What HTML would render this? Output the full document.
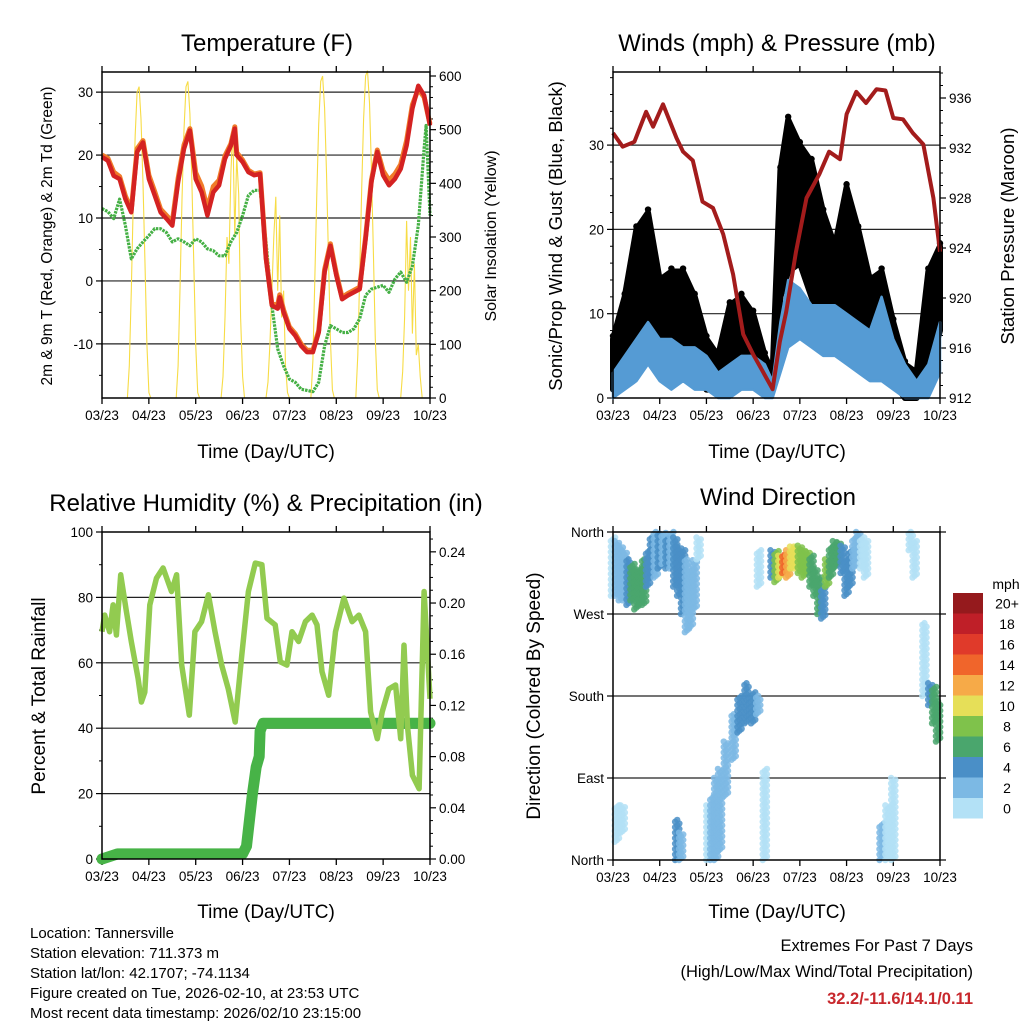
<!DOCTYPE html>
<html><head><meta charset="utf-8"><style>
html,body{margin:0;padding:0;background:#fff;}
svg{display:block;font-family:"Liberation Sans",sans-serif;}
</style></head><body>
<svg id="fig" width="1024" height="1024" viewBox="0 0 1024 1024" xmlns="http://www.w3.org/2000/svg">
<rect width="1024" height="1024" fill="#fff"/>
<g font-size="24" text-anchor="middle" fill="#000">
<text x="267" y="51">Temperature (F)</text>
<text x="777" y="51">Winds (mph) &amp; Pressure (mb)</text>
<text x="266" y="511">Relative Humidity (%) &amp; Precipitation (in)</text>
<text x="778" y="505">Wind Direction</text>
</g>
<g font-size="19" text-anchor="middle">
<text x="266" y="458">Time (Day/UTC)</text>
<text x="777" y="458">Time (Day/UTC)</text>
<text x="266" y="918">Time (Day/UTC)</text>
<text x="777" y="918">Time (Day/UTC)</text>
<text transform="translate(52,236) rotate(-90)" font-size="15.5">2m &amp; 9m T (Red, Orange) &amp; 2m Td (Green)</text>
<text transform="translate(496,236) rotate(-90)" font-size="16">Solar Insolation (Yellow)</text>
<text transform="translate(562,236) rotate(-90)" font-size="18.5">Sonic/Prop Wind &amp; Gust (Blue, Black)</text>
<text transform="translate(1014,236) rotate(-90)" font-size="18.5">Station Pressure (Maroon)</text>
<text transform="translate(45,696) rotate(-90)" font-size="19">Percent &amp; Total Rainfall</text>
<text transform="translate(540,696) rotate(-90)" font-size="19">Direction (Colored By Speed)</text>
</g>
<g font-size="15" fill="#000">
<text x="30" y="938">Location: Tannersville</text>
<text x="30" y="958">Station elevation: 711.373 m</text>
<text x="30" y="978">Station lat/lon: 42.1707; -74.1134</text>
<text x="30" y="998">Figure created on Tue, 2026-02-10, at 23:53 UTC</text>
<text x="30" y="1018">Most recent data timestamp: 2026/02/10 23:15:00</text>
</g>
<g text-anchor="end" font-size="16.5">
<text x="973" y="951">Extremes For Past 7 Days</text>
<text x="973" y="977">(High/Low/Max Wind/Total Precipitation)</text>
<text x="973" y="1004" fill="#c8282d" font-weight="bold">32.2/-11.6/14.1/0.11</text>
</g>
</svg>
<script>
// ---------- data ----------
const timeLabels=["03/23","04/23","05/23","06/23","07/23","08/23","09/23","10/23"];
const tHours=[0,3,6,9,12,15,18,21,24,27,30,33,36,39,42,45,48,51,54,57,60,63,66,68,69,72,75,78,81,84,87,90,91,93,96,99,102,105,108,111,114,117,120,123,126,129,132,135,138,141,144,147,150,153,156,159,162,165,168];
const tempRed=[19.7,19.1,16.7,16.2,13,10.9,20.5,22,16.2,13.6,10.9,9.9,8.8,15.7,21,23.9,16.2,14.1,10.4,14.1,15.2,19.4,21.5,24.2,20,18.9,17.3,16.8,17,3.5,-3.9,-4.4,-2.6,-5,-7.6,-8.7,-10.3,-11.3,-11.3,-8.2,1.4,5.6,0.9,-2.9,-2.3,-1.8,-1.3,6.7,15.7,20.5,16.8,15.2,16.2,17.8,21.5,27.4,31,29.5,24.7];
const tempOrange=[20,19.5,17.3,16.6,13.5,11.3,21,22.3,16.8,14.2,11.4,10.4,9.4,16.3,21.6,24.2,17.2,15.1,11.5,15,16,19.9,21.8,24.5,20.4,19.2,17.6,17,17.2,3.8,-3.7,-3.8,-2.2,-4.6,-7.3,-8.4,-10,-11,-11,-7.9,1.8,5.9,1.2,-2.6,-2,-1.5,-1,7,16,20.8,17.5,16,17,18.5,22.3,28,30.5,29.2,24.9];
const dewHours=[0,3,6,9,12,15,18,21,24,27,30,33,36,39,42,45,48,51,54,57,60,63,66,69,72,75,78,81,84,87,90,93,96,99,102,105,108,111,114,117,120,123,126,129,132,135,138,141,144,147,150,153,156,159,162,165,166,168];
const dewGreen=[11.5,11,9.9,13,8.8,3.5,5.1,6.2,7.2,8.3,8.3,7.7,6.2,6.7,6.2,5.6,6.7,6.2,5.1,4.8,4,4,6.2,7.7,10.4,13.6,14.4,14.4,6.2,-3.9,-10.8,-13.5,-15.6,-16.1,-17.2,-17.4,-17.6,-16.1,-10.3,-7.1,-7.6,-8.2,-8.2,-7.6,-6,-2.3,-1.3,-1,-0.7,-1.8,0.3,1.4,-0.2,2.4,8.8,21,24.7,10.4];
const solarHours=[];for(let i=0;i<=168;i++)solarHours.push(i);
const solar=[0,0,0,0,0,0,0,0,0,0,0,0,0,0,60,200,360,490,570,580,520,400,250,100,10,0,
0,0,0,0,0,0,0,0,0,0,0,0,0,60,210,370,500,580,590,530,410,250,100,10,0,
0,0,0,0,0,0,0,0,0,0,0,40,150,300,250,420,505,300,450,380,150,40,0,
0,0,0,0,0,0,0,0,0,0,0,30,100,200,300,375,200,340,150,200,60,10,0,
0,0,0,0,0,0,0,0,0,0,0,70,220,380,510,590,600,540,420,260,110,15,0,
0,0,0,0,0,0,0,0,0,0,0,80,230,390,520,600,610,550,430,270,110,15,0,
0,0,0,0,0,0,0,0,0,0,0,50,150,330,200,300,120,250,80,100,40,0];
const presHours=[0,5,11,17,20.6,25.7,32.6,36,41,46,51.4,56.6,61.7,66.9,72,77,82,85.7,89,94,99.4,106,111,116.6,120,125,130,135.4,140,144,149,154,159.4,164.6,168];
const pressure=[933.2,932.1,932.5,934.9,933.7,935.5,932.8,931.7,931,927.7,927.2,925.1,921.9,917.1,915.5,914.1,912.7,916.5,918.9,923.7,928,929.9,931.7,931.1,934.7,936.5,935.6,936.7,936.6,934.4,934.3,933.2,932.3,928,923.7];
const windHours=[0,6,12,18,24,30,36,42,48,54,60,66,72,78,82,86,90,96,102,108,114,120,126,132,138,144,150,156,162,168];
const sonicLo=[0,1,2,4,2,1,2,1,1,0,0,1,1,0,0,3,6,7,6,5,5,4,3,2,2,1,0,0,0,3];
const sonicHi=[3,5,7,9,7,7,6,6,5,3,4,5,5,4,2,9,14,13,11,11,11,10,9,8,12,7,4,2,4,9];
const gustLo=[1,3,8,6,5,4,5,4,1,1,3,4,3,1,1,12,15,16,12,8,7,7,6,5,5,2,0,0,3,8];
const gustHi=[7,12,20,22,14,15,15,12,7,5,11,12,10,5,3,27,33,30,28,22,18,25,20,14,15,9,4,3,15,18];
const rhHours=[0,1.4,3.9,5.7,7.4,9.6,12.5,15,18.5,20.2,21.9,24.5,27.9,31.3,35.6,38.2,40.8,44.7,47.6,51,54.5,57.9,61.3,64.7,68.2,71.6,75,78.5,81.9,84.5,88.7,91.3,94.7,97.3,100.7,104.2,107.6,110.1,112.7,116.1,119.6,123.9,128.1,131.6,135,137.6,141,143.5,146.9,150.4,153,154.7,156.4,159,162.4,165,168];
const rh=[69.5,74.6,69.5,77.7,68.5,86.9,75.7,66.5,55.2,48,51,77.7,85.9,89,81.8,86.9,59.3,44,69.5,72.6,80.8,69.5,59.3,52,41.9,62.4,81.8,90.5,90,73.6,71.6,60.3,59.3,69.5,66.5,72.6,74.6,71.6,57.3,50.1,69.5,79.8,72.6,74.6,69.5,45,36.8,45,52,53.2,36.8,65.4,40.9,25.6,21.5,81.8,49];
const precipHours=[0,8,72,74,77,79,80.5,81,82.5,168];
const precip=[0,0.004,0.004,0.01,0.05,0.072,0.08,0.1,0.106,0.106];
const dirHours=[0,2,4,6,8,10,12,14,16,18,20,22,24,26,28,30,32,34,36,38,40,42,44,2,5,33,35,49,51,53,55,58,62,65,68.6,72,74.6,78,75,82,84,86,88,90,92,94,96,98,100,102,104,106,108,110,112,114,116,118,120,122,124,126,128,130,138,141,144,153,155,160,163,165,167];
const dirLo=[290,290,285,285,280,285,275,280,280,300,310,310,320,325,320,320,300,290,270,250,255,275,330,20,30,0,0,0,0,0,10,70,110,140,150,150,160,0,300,310,305,310,315,310,320,320,315,310,315,300,290,270,265,300,310,320,325,315,290,300,320,330,320,310,0,0,0,340,310,180,170,150,130];
const dirHi=[355,350,345,340,330,325,320,320,330,340,355,360,358,360,355,360,355,345,340,330,320,330,355,60,60,45,30,60,70,90,100,130,160,180,195,185,180,100,340,340,340,335,335,340,345,345,345,340,340,335,320,310,300,330,345,350,350,345,330,340,355,360,355,350,40,60,90,360,350,260,195,190,175];
const dirSpeed=[1,2,2,3,4,6,7,6,7,4,4,3,4,3,4,3,4,5,4,3,3,2,1,1,1,4,3,1,2,2,2,2,3,4,4,4,2,1,1,4,9,10,14,12,11,10,9,9,8,7,6,6,5,8,7,6,6,5,4,4,3,2,1,1,2,1,1,1,1,1,4,6,7];
const speedBins=["0","2","4","6","8","10","12","14","16","18","20+"];
const binColors=["#b3e1f6","#7cb9e4","#4a8fc7","#4aa66d","#7fc24b","#e6df58","#f6aa48","#f0652b","#e03a2a","#bf1f28","#951a1d"];

// ---------- helpers ----------
const NS="http://www.w3.org/2000/svg";
const svg=document.getElementById('fig');
function mk(tag,attrs,parent){const e=document.createElementNS(NS,tag);for(const k in attrs)e.setAttribute(k,attrs[k]);(parent||svg).appendChild(e);return e;}
function linePath(xs,ys,sx,sy){return xs.map((h,i)=>(i?'L':'M')+sx(h).toFixed(1)+','+sy(ys[i]).toFixed(1)).join('');}

function axes(p){
  const g=mk('g',{});
  
  
  p.grid.forEach(v=>{const y=p.sy(v);const l=mk('line',{x1:p.x0,x2:p.x1,y1:y,y2:y,stroke:'#222','stroke-width':1.2},g);
    
    });
  timeLabels.forEach((t,i)=>{const x=p.x0+i*(p.x1-p.x0)/7;
    const a=mk('line',{x1:x,x2:x,y1:p.y1,y2:p.y1+6,stroke:'#000','stroke-width':1.3},g);
    
    
    const b=mk('line',{x1:x,x2:x,y1:p.y0,y2:p.y0-6,stroke:'#000','stroke-width':1.3},g);
    
    
    const tx=mk('text',{x:x,y:p.y1+22,'font-size':13.5,'text-anchor':'middle'},g);tx.textContent=t;
    
    });
  p.lt.forEach((v,i)=>{const y=p.sy(v);
    const a=mk('line',{x1:p.x0-6,x2:p.x0,y1:y,y2:y,stroke:'#000','stroke-width':1.2},g);
    
    
    const tx=mk('text',{x:p.x0-9,y:y+5,'font-size':13.5,'text-anchor':'end'},g);tx.textContent=p.ll[i];
    
    });
  (p.lm||[]).forEach(v=>{const y=p.sy(v);const a=mk('line',{x1:p.x0-3,x2:p.x0,y1:y,y2:y,stroke:'#000','stroke-width':1},g);
    
    });
  if(p.rt){p.rt.forEach((v,i)=>{const y=p.ry(v);
    const a=mk('line',{x1:p.x1,x2:p.x1+6,y1:y,y2:y,stroke:'#000','stroke-width':1.2},g);
    
    
    if(p.rl){const tx=mk('text',{x:p.x1+9,y:y+5,'font-size':13.5,'text-anchor':'start'},g);tx.textContent=p.rl[i];
    
    }});
  (p.rm||[]).forEach(v=>{const y=p.ry(v);const a=mk('line',{x1:p.x1,x2:p.x1+3,y1:y,y2:y,stroke:'#000','stroke-width':1},g);
    
    });}
  return g;
}
function frame(p){const r=mk('rect',{x:p.x0,y:p.y0,width:p.x1-p.x0,height:p.y1-p.y0,fill:'none',stroke:'#000','stroke-width':1.5});
  
  }
function rng(a,b,s){const r=[];for(let v=a;v<=b+1e-9;v+=s)r.push(+v.toFixed(4));return r;}

// ---------- Panel 1: Temperature ----------
(function(){
  const p={name:'temperature',x0:102,x1:430,y0:72,y1:398};
  const tmin=-18.6,tmax=33.2;
  p.sx=h=>p.x0+h/168*(p.x1-p.x0);
  p.sy=v=>p.y1-(v-tmin)/(tmax-tmin)*(p.y1-p.y0);
  p.ry=v=>398-v/600*(398-76);
  p.grid=[-10,0,10,20,30];p.lt=[-10,0,10,20,30];p.ll=['-10','0','10','20','30'];
  p.lm=rng(-15,30,5).filter(v=>v%10!==0);
  p.rt=[0,100,200,300,400,500,600];p.rl=p.rt.map(String);p.rm=rng(20,600,20).filter(v=>v%100!==0);
  axes(p);
  const s=mk('path',{d:linePath(solarHours,solar,p.sx,p.ry),fill:'none',stroke:'#f7dc45','stroke-width':1.1});
  
  
  const d=mk('path',{d:linePath(dewHours,dewGreen,p.sx,p.sy),fill:'none',stroke:'#45b045','stroke-width':3.2,'stroke-dasharray':'2.5 1','stroke-linejoin':'round'});
  
  
  const o=mk('path',{d:linePath(tHours,tempOrange,p.sx,p.sy),fill:'none',stroke:'#f07c2a','stroke-width':5,'stroke-linejoin':'round'});
  
  
  const r=mk('path',{d:linePath(tHours,tempRed,p.sx,p.sy),fill:'none',stroke:'#d42222','stroke-width':4.5,'stroke-linejoin':'round'});
  
  
  frame(p);
})();

// ---------- Panel 2: Winds & Pressure ----------
(function(){
  const p={name:'winds',x0:613,x1:940,y0:72,y1:398};
  p.sx=h=>p.x0+h/168*(p.x1-p.x0);
  p.sy=v=>p.y1-v*8.43;
  p.ry=v=>398-(v-912)*12.5;
  p.grid=[10,20,30];p.lt=[0,10,20,30];p.ll=['0','10','20','30'];
  p.lm=rng(2,38,2).filter(v=>v%10!==0);
  p.rt=[912,916,920,924,928,932,936];p.rl=p.rt.map(String);p.rm=rng(913,938,1).filter(v=>v%4!==0);
  axes(p);
  const gp=windHours.map((h,i)=>p.sx(h)+','+p.sy(gustHi[i])).concat(windHours.slice().reverse().map((h,j)=>{const i=windHours.length-1-j;return p.sx(h)+','+p.sy(gustLo[i]);}));
  const gst=mk('polygon',{points:gp.join(' '),fill:'#000',stroke:'#000','stroke-width':6,'stroke-linejoin':'round'});
  
  
  windHours.forEach((h,i)=>{const c=mk('circle',{cx:p.sx(h),cy:p.sy(gustHi[i])-3,r:3.2,fill:'#000'});
    
    });
  const bp=windHours.map((h,i)=>p.sx(h)+','+p.sy(sonicHi[i])).concat(windHours.slice().reverse().map((h,j)=>{const i=windHours.length-1-j;return p.sx(h)+','+p.sy(sonicLo[i]);}));
  const bl=mk('polygon',{points:bp.join(' '),fill:'#559bd4',stroke:'#559bd4','stroke-width':2.5,'stroke-linejoin':'round'});
  
  
  const pr=mk('path',{d:linePath(presHours,pressure,p.sx,p.ry),fill:'none',stroke:'#a31c1c','stroke-width':4,'stroke-linejoin':'round'});
  
  
  frame(p);
})();

// ---------- Panel 3: RH & Precip ----------
(function(){
  const p={name:'rh',x0:102,x1:430,y0:532,y1:859};
  p.sx=h=>p.x0+h/168*(p.x1-p.x0);
  p.sy=v=>p.y1-v/100*(p.y1-p.y0);
  p.ry=v=>p.y1-v/0.2555*(p.y1-p.y0);
  p.grid=[20,40,60,80];p.lt=[0,20,40,60,80,100];p.ll=['0','20','40','60','80','100'];
  p.lm=rng(10,90,10).filter(v=>v%20!==0);
  p.rt=[0,0.04,0.08,0.12,0.16,0.2,0.24];p.rl=['0.00','0.04','0.08','0.12','0.16','0.20','0.24'];
  p.rm=rng(0.01,0.25,0.01).filter(v=>Math.round(v*100)%4!==0);
  axes(p);
  const pc=mk('path',{d:linePath(precipHours,precip,p.sx,p.ry),fill:'none',stroke:'#47b347','stroke-width':11,'stroke-linejoin':'round','stroke-linecap':'round'});
  
  
  const r=mk('path',{d:linePath(rhHours,rh,p.sx,p.sy),fill:'none',stroke:'#92cb50','stroke-width':5.5,'stroke-linejoin':'round'});
  
  
  frame(p);
})();

// ---------- Panel 4: Wind direction ----------
(function(){
  const p={name:'direction',x0:613,x1:940,y0:532,y1:860};
  p.sx=h=>p.x0+h/168*(p.x1-p.x0);
  p.sy=v=>p.y1-v/360*(p.y1-p.y0);
  p.ry=p.sy;
  p.grid=[90,180,270];p.lt=[0,90,180,270,360];p.ll=['North','East','South','West','North'];
  p.rt=[0,90,180,270,360];
  axes(p);
  function binOf(s){return Math.min(10,Math.floor(s/2));}
  dirHours.forEach((hr,i)=>{
    const col=binColors[binOf(dirSpeed[i])];
    [-1.1,0,1.1].forEach((dx,j)=>{
      for(let v=dirLo[i]+j*2;v<=dirHi[i];v+=6){
        const c=mk('circle',{cx:p.sx(hr+dx),cy:p.sy(v),r:3.2,fill:col,'fill-opacity':0.85});
        
        
      }
    });
  });
  frame(p);
  const lg=mk('g',{});
  
  
  const ttl=mk('text',{x:1006,y:589,'font-size':14,'text-anchor':'middle'},lg);ttl.textContent='mph';
  
  
  const top=593,bh=20.5;
  speedBins.forEach((b,i)=>{const k=10-i;const y=top+i*bh;
    const r=mk('rect',{x:953,y:y,width:30,height:bh,fill:binColors[k]},lg);
    
    
    const t=mk('text',{x:1007,y:y+bh/2+5,'font-size':14,'text-anchor':'middle'},lg);t.textContent=speedBins[k];
    
    });
})();
</script>
</body></html>
